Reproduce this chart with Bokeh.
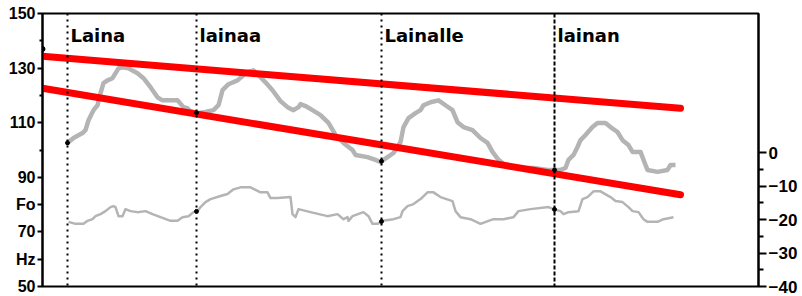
from bokeh.plotting import figure
from bokeh.models import Range1d, LinearAxis, FixedTicker, Span, Label
from bokeh.embed import file_html
from bokeh.resources import INLINE
from bokeh.core.properties import value
import numpy as np

# ---- data -------------------------------------------------------------
# Fo contour (time in s, Hz)
fo_t = [0.0625, 0.0775, 0.100, 0.1075, 0.115, 0.1275, 0.1375, 0.145, 0.1525, 0.1625,
        0.175, 0.19, 0.20, 0.215, 0.2375, 0.2525, 0.27, 0.2875, 0.30, 0.3375,
        0.3525, 0.3625, 0.37, 0.3875, 0.4075, 0.4275, 0.44, 0.45, 0.465, 0.4875,
        0.5025, 0.5125, 0.5275, 0.54, 0.5575, 0.575, 0.595, 0.6125, 0.6275, 0.64,
        0.645, 0.6575, 0.675, 0.695, 0.715, 0.7325, 0.7525, 0.775, 0.7825, 0.8125,
        0.8325, 0.845, 0.8625, 0.8775, 0.895, 0.9025, 0.915, 0.9325, 0.945, 0.9525,
        0.97, 0.99, 1.0075, 1.025, 1.0375, 1.0525, 1.075, 1.095, 1.1125, 1.125,
        1.14, 1.1625, 1.1875, 1.2275, 1.2625, 1.2775, 1.295, 1.3075, 1.315, 1.3275,
        1.3375, 1.345, 1.3575, 1.375, 1.3875, 1.4075, 1.42, 1.4375, 1.45, 1.465,
        1.475, 1.495, 1.5075, 1.5125, 1.5375, 1.5625, 1.57, 1.5825]
fo_hz = [102.6, 104.4, 106.2, 107.3, 110.9, 114.6, 116.4, 120.8, 124.5, 125.5,
         126.3, 129.9, 130.3, 129.9, 128.1, 126.3, 123.0, 119.3, 118.2, 118.2,
         115.7, 115.3, 114.2, 113.5, 113.9, 114.6, 116.4, 121.9, 124.1, 125.5,
         127.4, 128.5, 129.2, 127.4, 124.8, 121.9, 117.9, 115.7, 114.6, 115.7,
         116.8, 116.1, 114.6, 112.8, 109.9, 105.5, 102.6, 100.0, 98.2, 97.4,
         96.4, 95.6, 97.4, 98.9, 102.9, 108.4, 111.7, 113.5, 114.6, 116.4,
         117.5, 118.2, 116.4, 114.6, 110.2, 108.4, 107.3, 104.4, 102.6, 99.3,
         96.4, 93.8, 93.4, 93.4, 92.7, 92.7, 92.7, 93.4, 96.4, 98.2,
         101.1, 103.6, 105.5, 108.4, 109.9, 109.9, 108.4, 106.6, 103.6, 101.8,
         99.3, 99.3, 94.5, 92.7, 92.0, 92.7, 94.5, 94.5]

# Ao intensity (time in s, dB)
ao_t = [0.065, 0.0825, 0.1025, 0.1125, 0.125, 0.1325, 0.145, 0.1575, 0.17, 0.1775,
        0.1825, 0.19, 0.20, 0.2075, 0.22, 0.2375, 0.2575, 0.275, 0.295, 0.32,
        0.3375, 0.35, 0.365, 0.3775, 0.3875, 0.395, 0.4075, 0.42, 0.445, 0.4625,
        0.4775, 0.495, 0.52, 0.545, 0.5625, 0.57, 0.5875, 0.62, 0.625, 0.6325,
        0.64, 0.67, 0.7125, 0.7375, 0.7525, 0.7625, 0.765, 0.775, 0.8025, 0.815,
        0.825, 0.8375, 0.85, 0.8775, 0.895, 0.90, 0.9125, 0.9275, 0.945, 0.9625,
        0.9775, 0.995, 1.025, 1.0325, 1.045, 1.07, 1.095, 1.115, 1.1275, 1.1525,
        1.1775, 1.19, 1.22, 1.265, 1.2775, 1.295, 1.3025, 1.315, 1.34, 1.35,
        1.3625, 1.3775, 1.395, 1.42, 1.4325, 1.45, 1.465, 1.475, 1.49, 1.5025,
        1.5125, 1.5375, 1.5525, 1.5775]
ao_db = [-20.7, -21.3, -21.3, -20.4, -19.9, -19.0, -18.4, -17.5, -16.3, -16.0,
         -16.3, -19.0, -19.0, -16.9, -17.5, -17.8, -17.5, -18.4, -19.3, -20.4,
         -20.4, -19.3, -19.0, -17.8, -17.5, -16.3, -14.8, -13.9, -13.0, -12.4,
         -11.0, -10.4, -10.4, -11.9, -11.9, -13.6, -13.6, -13.3, -18.4, -19.3,
         -16.9, -17.8, -19.0, -18.4, -19.9, -19.3, -20.4, -19.0, -17.8, -19.0,
         -21.3, -21.3, -20.4, -19.9, -19.3, -17.5, -16.0, -15.4, -13.9, -11.9,
         -11.9, -13.3, -14.5, -17.5, -19.3, -19.9, -21.3, -20.4, -19.9, -19.9,
         -19.3, -17.5, -16.9, -16.3, -16.9, -17.5, -18.4, -17.8, -17.5, -13.9,
         -13.3, -11.6, -11.6, -13.3, -14.5, -14.8, -16.3, -17.5, -17.8, -19.9,
         -20.7, -20.7, -19.9, -19.3]

# words and their onset times (s)
words = ["Laina", "lainaa", "Lainalle", "lainan"]
word_t = [0.0625, 0.385, 0.8475, 1.28]

# declination lines (top line / base line)
top_t = [0.0, 1.595]
top_hz = [134.3, 115.3]
base_t = [0.0, 1.595]
base_hz = [122.6, 83.6]

start_t = [0.0]
start_hz = [137.0]

fo_ticks = [50, 60, 70, 80, 90, 110, 130, 150]
fo_minor = [100, 120, 140]
fo_labels = {80: "Fo", 60: "Hz"}
db_ticks = [0, -10, -20, -30, -40]
db_minor = [-5, -15, -25, -35]
db_labels = {0: "0", -10: "\u221210", -20: "\u221220", -30: "\u221230", -40: "\u221240"}

# ---- figure -----------------------------------------------------------
p = figure(width=802, height=296, output_backend="svg", toolbar_location=None,
           x_range=Range1d(0, 1.79), y_range=Range1d(50, 150),
           x_axis_location=None,
           min_border_left=42, min_border_right=44, min_border_top=13, min_border_bottom=10)
p.grid.visible = False
p.outline_line_color = "black"
p.outline_line_width = 2
p.outline_line_alpha = 1.0
p.background_fill_color = "white"
p.border_fill_color = "white"

p.extra_y_ranges = {"db": Range1d(-40, 41.5)}

def style_axis(ax, tick_major, tick_minor, standoff, size):
    ax.axis_line_color = "black"
    ax.axis_line_width = 2
    ax.major_tick_line_color = "black"
    ax.minor_tick_line_color = "black"
    ax.major_tick_line_width = 2
    ax.minor_tick_line_width = 2
    ax.major_tick_in = 0
    ax.minor_tick_in = 0
    ax.major_tick_out = tick_major
    ax.minor_tick_out = tick_minor
    ax.major_label_text_font = "Liberation Sans"
    ax.major_label_text_font_style = "bold"
    ax.major_label_text_font_size = size
    ax.major_label_text_color = "black"
    ax.major_label_standoff = standoff

yl = p.yaxis[0]
yl.ticker = FixedTicker(ticks=fo_ticks, minor_ticks=fo_minor)
yl.major_label_overrides = fo_labels
style_axis(yl, 5, 3, 2, "16px")

yr = LinearAxis(y_range_name="db", ticker=FixedTicker(ticks=db_ticks, minor_ticks=db_minor),
                major_label_overrides=db_labels)
style_axis(yr, 8, 5, 2, "17px")
p.add_layout(yr, "right")

gray = "#b4b4b4"
p.line(ao_t, ao_db, y_range_name="db", line_color=gray, line_width=2.5, line_join="round")
p.line(fo_t, fo_hz, line_color=gray, line_width=4.5, line_join="round")

p.line(top_t, top_hz, line_color="#ff0000", line_width=7, line_cap="round")
p.line(base_t, base_hz, line_color="#ff0000", line_width=7, line_cap="round")

for i, t in enumerate(word_t):
    dash = "4 2" if i == len(word_t) - 1 else "2 4"
    p.add_layout(Span(location=t, dimension="height", line_color="black",
                      line_width=2, line_dash=dash))

mk_fo = np.interp(word_t, fo_t, fo_hz, left=np.nan)
mk_ao = np.interp(word_t, ao_t, ao_db, left=np.nan)
p.scatter(word_t, mk_fo, size=4, color="black")
p.scatter(word_t, mk_ao, size=4, color="black", y_range_name="db")
p.scatter(start_t, start_hz, size=5, color="black")

p.text(x=word_t, y=[p.y_range.end] * len(words), text=words, x_offset=3, y_offset=22,
       text_baseline="alphabetic", text_align="left",
       text_font=value("DejaVu Sans"), text_font_style="bold", text_font_size="18px",
       text_color="black")

for txt, yv in [("Ao", 11.9), ("dB", 4.4)]:
    p.add_layout(Label(x=p.x_range.end, y=yv, y_range_name="db", x_offset=9, text=txt,
                       text_baseline="alphabetic", text_font="Liberation Sans",
                       text_font_style="bold", text_font_size="17px", text_color="black"))

open("out.html", "w").write(file_html(p, INLINE))
